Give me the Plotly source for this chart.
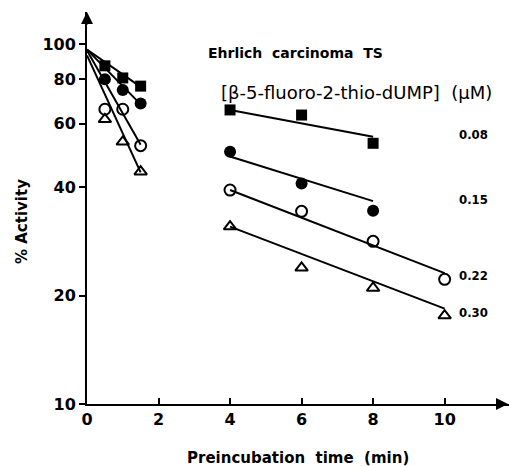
import math
import plotly.graph_objects as go

# ---- data ----
t_early = [0.5, 1.0, 1.5]
t_late4 = [4, 6, 8]
t_late5 = [4, 6, 8, 10]

sq_early = [87.0, 80.5, 76.4]
sq_late = [65.6, 63.5, 53.0]
fc_early = [79.8, 74.5, 68.4]
fc_late = [50.2, 41.0, 34.4]
oc_early = [65.9, 65.9, 52.2]
oc_late = [39.3, 34.3, 28.3, 22.2]
tr_early = [61.8, 53.5, 44.2]
tr_late = [31.1, 23.9, 21.0, 17.6]

# fitted line endpoints
fit_early_x = [0, 1.5]
sq_fit_early = [96.5, 76.0]
fc_fit_early = [96.5, 68.0]
oc_fit_early = [96.0, 52.5]
tr_fit_early = [93.0, 44.0]
fit_late4_x = [4, 8]
fit_late5_x = [4, 10]
sq_fit_late = [65.6, 55.3]
fc_fit_late = [48.7, 36.6]
oc_fit_late = [39.3, 23.1]
tr_fit_late = [31.1, 18.4]

conc_labels = ["0.08", "0.15", "0.22", "0.30"]
conc_label_y = [55.9, 36.9, 22.8, 17.9]

x_ticks = [0, 2, 4, 6, 8, 10]
y_ticks = [10, 20, 40, 60, 80, 100]

W, H = 509, 467
L, R, T, B = 87, 0, 12, 63

FONT = "DejaVu Sans, Arial"

fig = go.Figure()

line_style = dict(color="black", width=2)
for fx, fy in [(fit_early_x, sq_fit_early), (fit_early_x, fc_fit_early),
               (fit_early_x, oc_fit_early), (fit_early_x, tr_fit_early),
               (fit_late4_x, sq_fit_late), (fit_late4_x, fc_fit_late),
               (fit_late5_x, oc_fit_late), (fit_late5_x, tr_fit_late)]:
    fig.add_trace(go.Scatter(x=fx, y=fy, mode="lines", line=line_style,
                             showlegend=False, hoverinfo="skip"))

markers = [
    (t_early + t_late4, sq_early + sq_late, dict(symbol="square", size=11, color="black")),
    (t_early + t_late4, fc_early + fc_late, dict(symbol="circle", size=12, color="black")),
    (t_early + t_late5, oc_early + oc_late, dict(symbol="circle-open", size=11, color="black",
                                                 line=dict(width=2, color="black"))),
    (t_early + t_late5, tr_early + tr_late, dict(symbol="triangle-up-open", size=11, color="black",
                                                 line=dict(width=2, color="black"))),
]
for mx, my, mk in markers:
    fig.add_trace(go.Scatter(x=mx, y=my, mode="markers", marker=mk,
                             showlegend=False, hoverinfo="skip"))

def px(xp):
    return (xp - L) / (W - L - R)

def py(yp):
    return (H - B - yp) / (H - T - B)

ann = []
for lab, yv in zip(conc_labels, conc_label_y):
    ann.append(dict(x=10.8, y=math.log10(yv), xref="x", yref="y", text=lab,
                    showarrow=False, xanchor="center", yanchor="middle",
                    font=dict(family="Liberation Sans Narrow, DejaVu Sans Condensed, Arial",
                              size=13, color="black", weight="bold")))
ann.append(dict(x=px(206), y=py(53), xref="paper", yref="paper", text="Ehrlich  carcinoma  TS",
                showarrow=False, xanchor="left", yanchor="middle",
                font=dict(family=FONT, size=14, color="black", weight="bold")))
ann.append(dict(x=px(219), y=py(92), xref="paper", yref="paper",
                text="[β-5-fluoro-2-thio-dUMP]  (μM)",
                showarrow=False, xanchor="left", yanchor="middle",
                font=dict(family=FONT, size=18, color="black")))
ann.append(dict(x=px(298), y=py(458), xref="paper", yref="paper",
                text="Preincubation  time  (min)",
                showarrow=False, xanchor="center", yanchor="middle",
                font=dict(family=FONT, size=15, color="black", weight="bold")))
ann.append(dict(x=px(22), y=py(222), xref="paper", yref="paper", text="% Activity",
                textangle=-90, showarrow=False, xanchor="center", yanchor="middle",
                font=dict(family=FONT, size=15, color="black", weight="bold")))
ann.append(dict(x=1, y=0, xref="paper", yref="paper", ax=-14, ay=0, text="",
                showarrow=True, arrowhead=2, arrowsize=1.2, arrowwidth=2, arrowcolor="black"))
ann.append(dict(x=0, y=1, xref="paper", yref="paper", ax=0, ay=14, text="",
                showarrow=True, arrowhead=2, arrowsize=1.2, arrowwidth=2, arrowcolor="black"))

tickfont = dict(family=FONT, size=16, color="black", weight="bold")
fig.update_layout(
    width=W, height=H, margin=dict(l=L, r=R, t=T, b=B),
    paper_bgcolor="white", plot_bgcolor="white",
    annotations=ann,
    xaxis=dict(range=[0, 11.8], tickvals=x_ticks, ticktext=[str(v) for v in x_ticks],
               showline=True, linecolor="black", linewidth=2, showgrid=False, zeroline=False,
               ticks="inside", ticklen=6, tickwidth=2, tickcolor="black", tickfont=tickfont),
    yaxis=dict(type="log", range=[1, 2.089], tickvals=y_ticks, ticktext=[str(v) for v in y_ticks],
               showline=True, linecolor="black", linewidth=2, showgrid=False, zeroline=False,
               ticks="outside", ticklen=6, tickwidth=2, tickcolor="black", tickfont=tickfont),
)

fig.write_html("out.html")
